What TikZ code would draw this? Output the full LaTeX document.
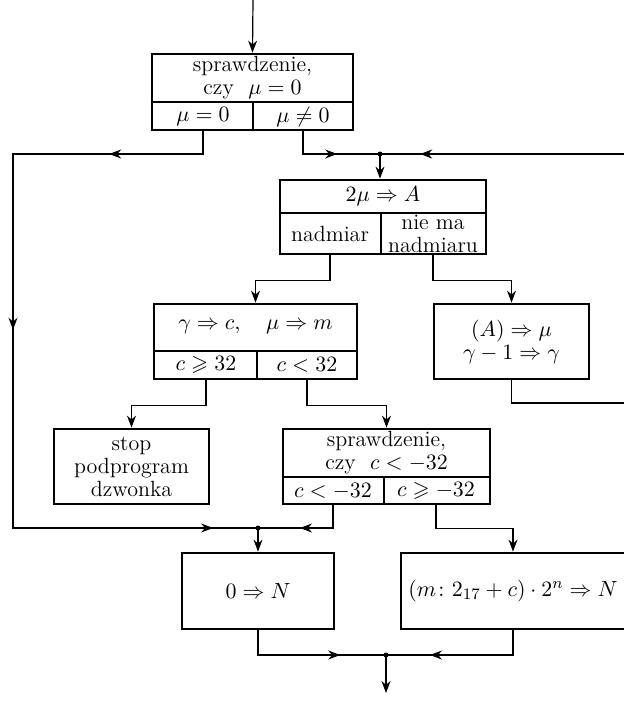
\documentclass[tikz,border=0pt]{standalone}
\usepackage{amsmath}
\usepackage{amssymb}
\usetikzlibrary{calc, arrows.meta, decorations.markings}

\begin{document}
\begin{tikzpicture}[x=0.5pt, y=-0.5pt, >={Stealth[length=6pt, width=4.5pt]},
		line width=0.6pt, font=\fontsize{11}{11.5}\selectfont,
		blok/.style={draw, line width=1.4pt, inner sep=0pt, align=center},
		txt/.style={align=center, inner sep=0pt},
		na/.style={postaction={decorate, decoration={markings,
			mark=at position #1 with {\arrow{>}}}}}]
		\useasboundingbox (0,0) rectangle (624,707);

		% sprawdzenie mu
		\node[blok, minimum width=100.5pt, minimum height=38pt] (spr) at (252.5,92) {};
		\draw (spr.west |- 0,102) -- (spr.east |- 0,102);
		\draw (253,102) -- (spr.south -| 253,0);
		\node[txt] (sprt) at (252.5,78) {sprawdzenie,\\czy\ \ $\mu=0$};
		\node[txt] (mzero) at (203,117) {$\mu=0$};
		\node[txt] (mnzero) at (303,117) {$\mu\neq0$};

		% 2 mu
		\node[blok, minimum width=103pt, minimum height=37pt] (obl) at (383,217) {};
		\draw (obl.west |- 0,213) -- (obl.east |- 0,213);
		\draw (381,213) -- (obl.south -| 381,0);
		\node[txt] (oblt) at (383,196) {$2\mu\Rightarrow A$};
		\node[txt] (nad) at (330,234) {nadmiar};
		\node[txt] (nnad) at (433,234) {nie ma\\nadmiaru};

		% gamma, mu
		\node[blok, minimum width=101.5pt, minimum height=37.5pt] (prz) at (255.5,341.5) {};
		\draw (prz.west |- 0,351) -- (prz.east |- 0,351);
		\draw (257,351) -- (prz.south -| 257,0);
		\node[txt] (przt) at (255.5,327) {$\gamma\Rightarrow c,\quad \mu\Rightarrow m$};
		\node[txt] (cge) at (206,365) {$c\geqslant 32$};
		\node[txt] (clt) at (307,365) {$c<32$};

		\node[blok, minimum width=77.5pt, minimum height=37.5pt] (zm) at (511.5,341.5)
			{$(A)\Rightarrow\mu$\\$\gamma-1\Rightarrow\gamma$};

		\node[blok, minimum width=77.5pt, minimum height=37.5pt] (stop) at (131.5,466.5)
			{stop\\podprogram\\dzwonka};

		% sprawdzenie c
		\node[blok, minimum width=103.5pt, minimum height=37.5pt] (spc) at (386.5,466.5) {};
		\draw (spc.west |- 0,477) -- (spc.east |- 0,477);
		\draw (384,477) -- (spc.south -| 384,0);
		\node[txt] (spct) at (386.5,453) {sprawdzenie,\\czy\ \ $c<-32$};
		\node[txt] (cmlt) at (333,491) {$c<-32$};
		\node[txt] (cmge) at (436,491) {$c\geqslant-32$};

		\node[blok, minimum width=76pt, minimum height=38pt] (zero) at (258,591) {$0\Rightarrow N$};
		\node[blok, minimum width=112pt, minimum height=38pt] (wz) at (513,591)
			{$(m\colon 2_{17}+c)\cdot 2^{n}\Rightarrow N$};

		\coordinate (we) at (253,0);
		\coordinate (j1) at (380,154);
		\coordinate (j2) at (258,528);
		\coordinate (j3) at (386,655);
		\coordinate (lg) at (13,154);
		\coordinate (ld) at (13,528);
		\coordinate (pg) at (634,154);
		\coordinate (pd) at (634,403);
		\coordinate (wy) at (386,693);

		\draw[->] (we) -- (spr.north);
		\draw[na=0.14, na=0.467, na=0.946] (mzero |- spr.south) |- (lg) -- (ld) -- (j2);
		\draw[na=0.57] (mnzero |- spr.south) |- (j1);
		\draw[na=0.938] (zm.south) |- (pd) -- (pg) -- (j1);
		\draw[->] (j1) -- (j1 |- obl.north);

		\draw[->] (nad |- obl.south) -- ++(0,25) -| (prz.north);
		\draw[->] (nnad |- obl.south) -- ++(0,25) -| (zm.north);
		\draw[->] (cge |- prz.south) -- ++(0,25) -| (stop.north);
		\draw[->] (clt |- prz.south) -- ++(0,25) -| (spc.north);

		\draw[na=0.57] (cmlt |- spc.south) |- (j2);
		\draw[->] (cmge |- spc.south) -- ++(0,23) -| (wz.north);
		\draw[->] (j2) -- (zero.north);

		\draw[na=0.70] (zero.south) |- (j3);
		\draw[na=0.71] (wz.south) |- (j3);
		\draw[->] (j3) -- (wy);

		\fill (j1) circle (2.5);
		\fill (j2) circle (2.5);
		\fill (j3) circle (2.5);
	\end{tikzpicture}
\end{document}
